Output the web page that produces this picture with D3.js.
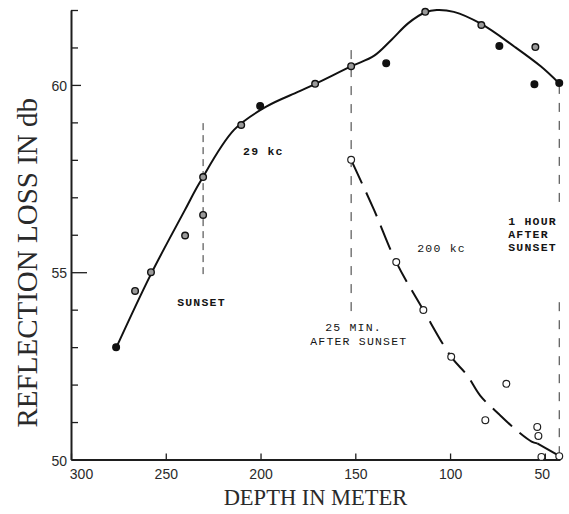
<!DOCTYPE html>
<html>
<head>
<meta charset="utf-8">
<script src="https://cdn.jsdelivr.net/npm/d3@7"></script>
<style>
  html, body { margin: 0; padding: 0; background: #fff; }
  svg { display: block; }
  .axis text { font-family: "Liberation Sans", Arial, sans-serif; font-size: 14px; fill: #2a2a2a; }
  .axis path, .axis line { stroke: #1e1e1e; }
  .note { font-family: "Liberation Mono", "DejaVu Sans Mono", monospace; font-size: 11.5px; letter-spacing: 1.2px; fill: #151515; }
  .title { font-family: "Liberation Serif", "DejaVu Serif", serif; fill: #2a2a2a; }
</style>
</head>
<body>
<script>
// 29 kc measurements
const depth29 = [276.2, 266.2, 257.8, 239.8, 230.3, 230.3, 210.2, 200.2, 171.2, 152.2, 133.7, 113.1, 83.5, 74.0, 55.0, 55.5, 42.4];
const loss29  = [53.0, 54.5, 55.0, 55.98, 56.53, 57.54, 58.93, 59.44, 60.03, 60.5, 60.58, 61.95, 61.6, 61.04, 61.01, 60.02, 60.05];
const solid29 = [true, false, false, false, false, false, false, true, false, false, true, false, false, true, false, true, true];

// 29 kc drawn curve
const depth29Fit = [276, 258, 240, 232, 214, 197, 180, 171, 152, 140, 131, 122, 113, 107, 98, 84, 66, 52, 42.4];
const loss29Fit  = [53.0, 54.93, 56.65, 57.4, 58.8, 59.42, 59.82, 60.03, 60.5, 60.78, 61.2, 61.65, 61.94, 62.0, 61.95, 61.64, 61.02, 60.49, 60.04];

// 200 kc measurements
const depth200 = [152.2, 128.4, 114.1, 99.4, 70.3, 81.4, 54.0, 53.4, 51.8, 42.4];
const loss200  = [58.0, 55.27, 53.99, 52.74, 52.02, 51.05, 50.87, 50.63, 50.07, 50.09];

// 200 kc drawn curve (dashed part, then short solid end)
const depth200Fit = [152.2, 140, 128.4, 114.1, 99.4, 91, 84, 74, 64, 57, 54];
const loss200Fit  = [58.0, 56.65, 55.27, 53.99, 52.74, 52.25, 51.7, 51.2, 50.74, 50.48, 50.43];
const depth200End = [54, 42.4];
const loss200End  = [50.43, 50.1];

// time markers (vertical dashed lines)
const markerDepth = [230.3, 152.2, 42.4, 42.4];
const markerFrom  = [54.87, 53.9, 56.7, 50.0];
const markerTo    = [58.98, 60.93, 60.0, 54.2];

// axis ticks
const xTicks = [300, 250, 200, 150, 100, 50];
const yTicks = [50, 51, 52, 53, 54, 55, 56, 57, 58, 59, 60, 61, 62];
const yLabels = [50, 55, 60];

// annotations, anchored in data units
const noteText  = ['29 kc', 'SUNSET', '25 MIN.', 'AFTER SUNSET', '200 kc', '1 HOUR', 'AFTER', 'SUNSET'];
const noteDepth = [209.2, 244.0, 165.9, 173.8, 117.3, 69.3, 69.3, 69.3];
const noteLoss  = [58.13, 54.1, 53.42, 53.07, 55.54, 56.26, 55.92, 55.57];
const noteBold  = [true, true, false, false, false, true, true, true];

const dimensions = { width: 569, height: 514 };

const svg = d3.select('body')
  .append('svg')
  .attr('width', dimensions.width)
  .attr('height', dimensions.height);

const x = d3.scaleLinear().domain([300, 42]).range([71, 560]);
const y = d3.scaleLinear().domain([50, 62]).range([459.5, 10]);

// y axis, ticks point inward
const yAxis = svg.append('g')
  .attr('class', 'axis')
  .attr('transform', `translate(${x(300)},0)`)
  .call(d3.axisLeft(y)
    .tickValues(yTicks)
    .tickSizeInner(-7)
    .tickSizeOuter(0)
    .tickPadding(4)
    .tickFormat(d => yLabels.includes(d) ? d : ''));

yAxis.select('.domain').attr('stroke-width', 2);
yAxis.selectAll('.tick line')
  .attr('stroke-width', 1.3)
  .attr('x2', d => (d === 55 ? 16 : yLabels.includes(d) ? 10 : 7));
yAxis.selectAll('.tick text').attr('dy', '0.4em');

// x axis
const xAxis = svg.append('g')
  .attr('class', 'axis')
  .attr('transform', `translate(0,${y(50)})`)
  .call(d3.axisBottom(x)
    .tickValues(xTicks)
    .tickSizeInner(-6)
    .tickSizeOuter(0)
    .tickPadding(10));

xAxis.select('.domain').attr('stroke-width', 2);
xAxis.selectAll('.tick line').attr('stroke-width', 1.3);
xAxis.selectAll('.tick text').attr('dx', d => (d === 300 ? 10 : d === 50 ? -3 : 0));

// vertical marker lines
svg.append('g')
  .selectAll('line')
  .data(markerDepth.map((d, i) => ({ depth: d, from: markerFrom[i], to: markerTo[i] })))
  .enter()
  .append('line')
  .attr('x1', d => x(d.depth))
  .attr('x2', d => x(d.depth))
  .attr('y1', d => y(d.to))
  .attr('y2', d => y(d.from))
  .attr('stroke', '#333')
  .attr('stroke-width', 1)
  .attr('stroke-dasharray', (d, i) => (i === 0 ? '7,5' : '9,9'));

const line = d3.line()
  .x(d => x(d[0]))
  .y(d => y(d[1]))
  .curve(d3.curveCatmullRom.alpha(0.5));

// 29 kc curve
svg.append('path')
  .attr('d', line(d3.zip(depth29Fit, loss29Fit)))
  .attr('fill', 'none')
  .attr('stroke', '#111')
  .attr('stroke-width', 2);

// 200 kc curve
svg.append('path')
  .attr('d', line(d3.zip(depth200Fit, loss200Fit)))
  .attr('fill', 'none')
  .attr('stroke', '#111')
  .attr('stroke-width', 2)
  .attr('stroke-dasharray', '26,10');

svg.append('path')
  .attr('d', line(d3.zip(depth200End, loss200End)))
  .attr('fill', 'none')
  .attr('stroke', '#111')
  .attr('stroke-width', 2);

// points
svg.append('g')
  .selectAll('circle')
  .data(depth29.map((d, i) => ({ depth: d, loss: loss29[i], solid: solid29[i] })))
  .enter()
  .append('circle')
  .attr('cx', d => x(d.depth))
  .attr('cy', d => y(d.loss))
  .attr('r', 3.3)
  .attr('fill', d => (d.solid ? '#111' : '#9a9a9a'))
  .attr('stroke', '#111')
  .attr('stroke-width', 1.4);

svg.append('g')
  .selectAll('circle')
  .data(depth200.map((d, i) => ({ depth: d, loss: loss200[i] })))
  .enter()
  .append('circle')
  .attr('cx', d => x(d.depth))
  .attr('cy', d => y(d.loss))
  .attr('r', 3.4)
  .attr('fill', '#fff')
  .attr('stroke', '#222')
  .attr('stroke-width', 1.2);

// annotations
svg.append('g')
  .selectAll('text')
  .data(noteText.map((t, i) => ({ text: t, depth: noteDepth[i], loss: noteLoss[i], bold: noteBold[i] })))
  .enter()
  .append('text')
  .attr('class', 'note')
  .attr('x', d => x(d.depth))
  .attr('y', d => y(d.loss))
  .attr('font-weight', d => (d.bold ? 'bold' : 'normal'))
  .text(d => d.text);

// axis titles
svg.append('text')
  .attr('class', 'title')
  .attr('x', (x(300) + x(42)) / 2)
  .attr('y', 505)
  .attr('text-anchor', 'middle')
  .attr('font-size', 22.5)
  .text('DEPTH IN METER');

svg.append('text')
  .attr('class', 'title')
  .attr('transform', `translate(37,${(y(50) + y(62)) / 2 + 28}) rotate(-90)`)
  .attr('text-anchor', 'middle')
  .attr('font-size', 29)
  .text('REFLECTION LOSS IN db');
</script>
</body>
</html>
